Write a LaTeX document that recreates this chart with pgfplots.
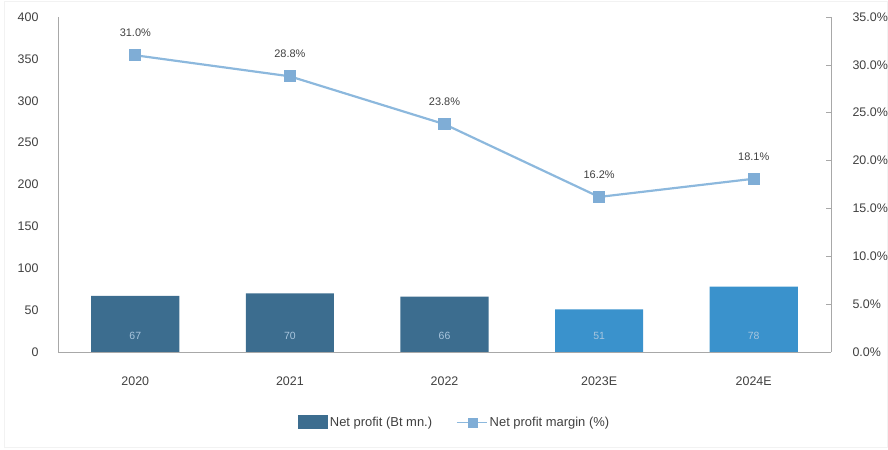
\documentclass[border=0pt]{standalone}
\usepackage{pgfplots}
\pgfplotsset{compat=1.18}
\usepackage{fontspec}
\setmainfont{Liberation Sans}

\definecolor{actualbar}{HTML}{3C6D8F}
\definecolor{estbar}{HTML}{3A92CC}
\definecolor{marginline}{HTML}{8CB8DD}
\definecolor{marginmark}{HTML}{7FADD6}
\definecolor{axisgray}{HTML}{A8A8A8}
\definecolor{labelgray}{HTML}{404040}
\definecolor{barlabel}{HTML}{A9C6DE}

\pgfplotsset{
  basestyle/.style={
    scale only axis,
    width=773bp, height=335bp,
    xmin=-0.5, xmax=4.5,
    axis line style={axisgray, line width=0.8pt},
    tick label style={font=\fontsize{12.5}{14}\selectfont, text=labelgray},
    /pgf/number format/assume math mode=true,
  }
}

\begin{document}
\begin{tikzpicture}[x=1bp,y=1bp]
\path[use as bounding box] (0,0) rectangle (888,450);
\draw[gray!10, line width=0.6pt] (4,3) rectangle (887,449);

% Net profit bars (left axis)
\begin{axis}[
  basestyle,
  at={(58bp,98bp)}, anchor=south west,
  ymin=0, ymax=400,
  ytick={0,50,...,400},
  axis x line*=bottom, axis y line*=left,
  xtick={0,1,2,3,4},
  xticklabels={2020,2021,2022,2023E,2024E},
  major tick length=0pt,
  xticklabel style={yshift=-21bp},
  yticklabel style={xshift=-16bp},
  ybar, bar shift=0pt, bar width=0.57,
  nodes near coords,
  visualization depends on={y \as \rawy},
  every node near coord/.append style={
    anchor=center, font=\fontsize{10.5}{12}\selectfont, text=barlabel,
    shift={(axis direction cs:0,19-\rawy)}},
  legend style={
    at={(0.513,-0.21)}, anchor=center, draw=none,
    font=\fontsize{13}{15}\selectfont, text=labelgray,
    legend columns=2,
    /tikz/every odd column/.append style={column sep=0bp},
    /tikz/every even column/.append style={column sep=22bp}},
  legend cell align=left,
]
\addplot[fill=actualbar, draw=none,
  area legend,
  legend image code/.code={\fill[actualbar] (0bp,-7bp) rectangle (30bp,7bp);}]
  coordinates {(0,67) (1,70) (2,66)};
\addlegendentry{Net profit (Bt mn.)}
\addplot[fill=estbar, draw=none, forget plot]
  coordinates {(3,51) (4,78)};
\addlegendimage{legend image code/.code={
  \draw[marginline, line width=1.6pt] (0bp,0bp) -- (30bp,0bp);
  \fill[marginmark] (11bp,-4.5bp) rectangle (20bp,4.5bp);}}
\addlegendentry{Net profit margin (\%)}
\end{axis}

% Net profit margin line (right axis)
\begin{axis}[
  basestyle,
  at={(58bp,98bp)}, anchor=south west,
  ymin=0, ymax=35,
  ytick={0,5,...,35},
  axis y line*=right, axis x line=none,
  tick align=inside,
  major tick length=5bp,
  tick style={axisgray, line width=0.6pt},
  yticklabel style={xshift=18bp},
  yticklabel={\pgfmathprintnumber[fixed,fixed zerofill,precision=1]{\tick}\%},
  nodes near coords={\pgfmathprintnumber[fixed,fixed zerofill,precision=1]{\pgfplotspointmeta}\%},
  every node near coord/.append style={
    anchor=south, yshift=14bp, font=\fontsize{11}{13}\selectfont, text=labelgray},
]
\addplot[marginline, line width=2.2pt,
  mark=square*, mark size=5bp,
  mark options={fill=marginmark, draw=marginmark}]
  coordinates {(0,31.0) (1,28.8) (2,23.8) (3,16.2) (4,18.1)};
\end{axis}
\end{tikzpicture}
\end{document}
